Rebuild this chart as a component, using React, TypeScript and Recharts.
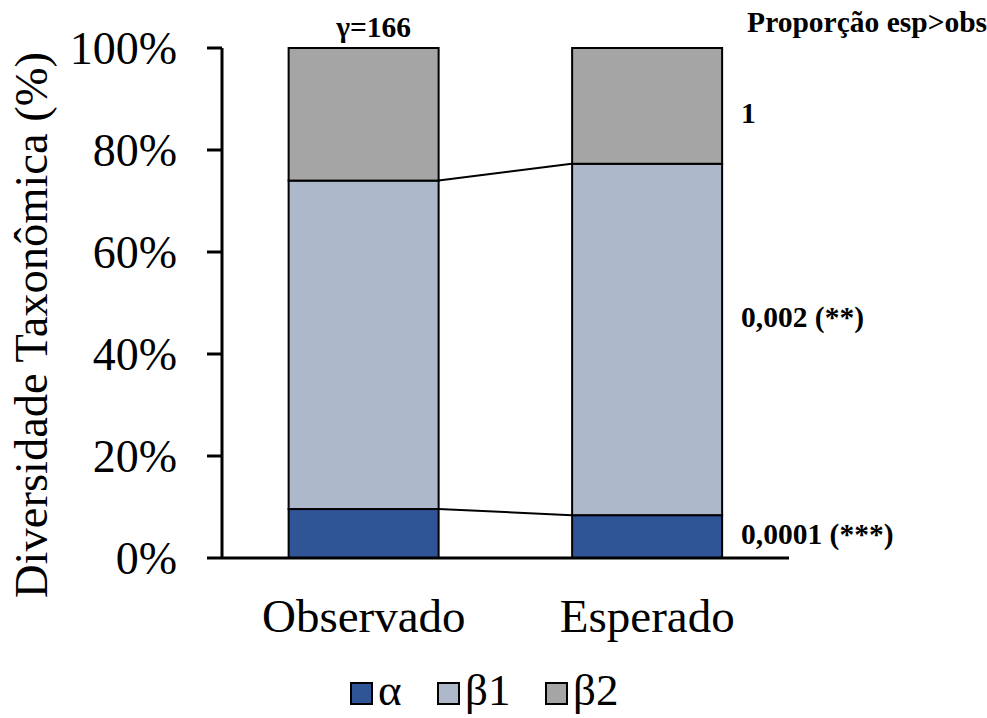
import React from 'react';
import { BarChart, Bar, XAxis, YAxis, Legend, LabelList } from 'recharts';

// Diversity partition: observed vs expected shares of alpha, beta1 and beta2
const categories = ['Observado', 'Esperado'];
const alphaShare = [9.6, 8.4];
const beta1Share = [64.4, 68.9];
const beta2Share = [26.0, 22.7];
const yTicks = [0, 20, 40, 60, 80, 100];

// p-values for the expected partition (alpha, beta1, beta2)
const pValues = ['0,0001 (***)', '0,002 (**)', '1'];
const pHeader = 'Proporção esp>obs';
const gammaText = 'γ=166';

const seriesKeys = ['alpha', 'beta1', 'beta2'];
const seriesNames = ['α', 'β1', 'β2'];
const seriesValues = [alphaShare, beta1Share, beta2Share];
const seriesColors = ['#2F5597', '#ADB9CA', '#A5A5A5'];

const data = categories.map((category, i) => ({
  category,
  alpha: alphaShare[i],
  beta1: beta1Share[i],
  beta2: beta2Share[i],
}));

const FONT = '"Liberation Serif", "Times New Roman", serif';
const NOTE_SIZE = 29.5;
const BAR_GAP = 0.235;
const P_SHIFT = [7.5, -12.5, 17];
const LEGEND_OFFSETS = [0, 87, 195];

const cumTop = (s: number, i: number) => {
  let sum = 0;
  for (let k = 0; k <= s; k++) sum += seriesValues[k][i];
  return sum;
};

// Segment rectangle plus the series line joining it to the next column
const makeShape = (s: number) => (props: any) => {
  const { x, y, width, height, index } = props;
  const seg = seriesValues[s][index];
  const scale = seg > 0 ? height / seg : 0;
  let connector = null;
  if (s < seriesValues.length - 1 && index < categories.length - 1) {
    const step = width / (1 - 2 * BAR_GAP);
    const dy = (cumTop(s, index) - cumTop(s, index + 1)) * scale;
    connector = (
      <line x1={x + width} y1={y} x2={x + step} y2={y + dy} stroke="#000" strokeWidth={2} />
    );
  }
  return (
    <g>
      <rect x={x} y={y} width={width} height={height} fill={seriesColors[s]} stroke="#000" strokeWidth={2} />
      {connector}
    </g>
  );
};

const makePLabel = (s: number) => (props: any) => {
  const { x, y, width, height, index } = props;
  if (index !== categories.length - 1) return null;
  const nodes = [
    <text
      key="p"
      x={Number(x) + Number(width) + 19}
      y={Number(y) + Number(height) / 2 + P_SHIFT[s]}
      fontFamily={FONT}
      fontWeight="bold"
      fontSize={NOTE_SIZE}
      fill="#000"
    >
      {pValues[s]}
    </text>,
  ];
  if (s === seriesValues.length - 1) {
    nodes.push(
      <text
        key="h"
        x={Number(x) + Number(width) + 25}
        y={Number(y) - 16}
        fontFamily={FONT}
        fontWeight="bold"
        fontSize={NOTE_SIZE}
        fill="#000"
      >
        {pHeader}
      </text>
    );
  }
  return <g>{nodes}</g>;
};

const renderGamma = (props: any) => {
  const { x, y, width, index } = props;
  if (index !== 0) return null;
  return (
    <text
      x={Number(x) + Number(width) / 2 + 10}
      y={Number(y) - 11}
      textAnchor="middle"
      fontFamily={FONT}
      fontWeight="bold"
      fontSize={NOTE_SIZE}
      fill="#000"
    >
      {gammaText}
    </text>
  );
};

const renderYLabel = (props: any) => {
  const vb = props.viewBox || { x: 0, y: 48, width: 222, height: 510 };
  const cx = vb.x + 47;
  const cy = vb.y + vb.height / 2 + 22;
  return (
    <text
      x={cx}
      y={cy}
      transform={`rotate(-90 ${cx} ${cy})`}
      textAnchor="middle"
      fontFamily={FONT}
      fontSize={46.5}
      fill="#000"
    >
      Diversidade Taxonômica (%)
    </text>
  );
};

const renderLegend = () => (
  <svg width={320} height={52} style={{ display: 'block' }}>
    {seriesNames.map((name, i) => {
      const ox = LEGEND_OFFSETS[i];
      return (
        <g key={name}>
          <rect x={ox + 1} y={18} width={21} height={21} fill={seriesColors[i]} stroke="#000" strokeWidth={2} />
          <text x={ox + 28} y={40} fontFamily={FONT} fontSize={45} fill="#000">
            {name}
          </text>
        </g>
      );
    })}
  </svg>
);

export default function App() {
  return (
    <div style={{ position: 'absolute', left: 0, top: 0, width: 987, height: 718, background: '#fff' }}>
      <BarChart
        width={987}
        height={718}
        data={data}
        margin={{ top: 48, right: 198, bottom: 100, left: 0 }}
        barCategoryGap={`${BAR_GAP * 100}%`}
      >
        <XAxis
          dataKey="category"
          height={60}
          interval={0}
          tickLine={false}
          tickMargin={35}
          axisLine={{ stroke: '#000', strokeWidth: 3 }}
          tick={{ fontFamily: FONT, fontSize: 47, fill: '#000' }}
        />
        <YAxis
          width={222}
          domain={[0, 100]}
          ticks={yTicks}
          tickFormatter={(v: number) => `${v}%`}
          tickSize={15}
          tickMargin={30}
          axisLine={{ stroke: '#000', strokeWidth: 3 }}
          tickLine={{ stroke: '#000', strokeWidth: 3 }}
          tick={{ fontFamily: FONT, fontSize: 46, fill: '#000' }}
          label={renderYLabel}
        />
        <Legend
          layout="horizontal"
          verticalAlign="middle"
          align="center"
          wrapperStyle={{ left: 350, top: 665, width: 320 }}
          content={renderLegend}
        />
        {seriesKeys.map((key, s) => (
          <Bar
            key={key}
            dataKey={key}
            name={seriesNames[s]}
            stackId="div"
            fill={seriesColors[s]}
            shape={makeShape(s)}
            isAnimationActive={false}
          >
            <LabelList dataKey={key} content={makePLabel(s)} />
            {s === seriesKeys.length - 1 ? <LabelList dataKey={key} content={renderGamma} /> : null}
          </Bar>
        ))}
      </BarChart>
    </div>
  );
}
